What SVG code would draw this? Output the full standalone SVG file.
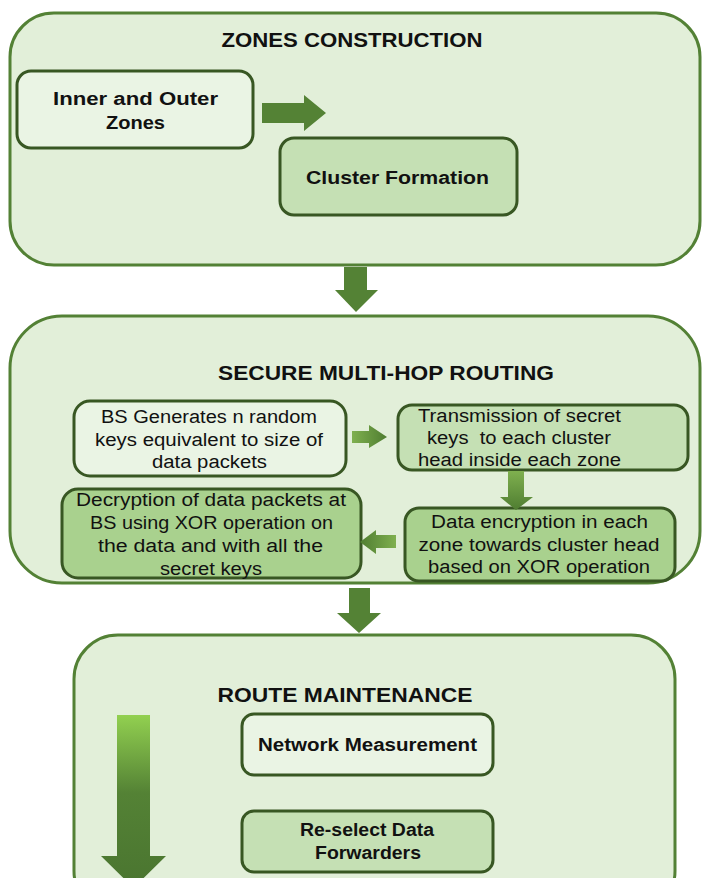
<svg xmlns="http://www.w3.org/2000/svg" width="702" height="878" viewBox="0 0 702 878">
<style>
.outer{fill:#e2efd9;stroke:#538135;stroke-width:3}
.box{stroke:#385723;stroke-width:3}
.b1{fill:#eaf4e4}
.b2{fill:#c5e0b4}
.b3{fill:#a9d18e}
.t{font-family:"Liberation Sans",Arial,sans-serif;fill:#111;text-anchor:middle}
.bold{font-weight:bold}
.title{font-size:20px}
.lbl{font-size:18px}
.reg{font-size:18px}
.arr{fill:#548235}
</style>
<defs>
<linearGradient id="gv" x1="0" y1="0" x2="0" y2="1">
<stop offset="0" stop-color="#92d050"/>
<stop offset="0.45" stop-color="#548235"/>
<stop offset="1" stop-color="#4a7530"/>
</linearGradient>
<linearGradient id="gs" x1="0" y1="0" x2="0" y2="1">
<stop offset="0" stop-color="#7fb04f"/>
<stop offset="1" stop-color="#4f7d31"/>
</linearGradient>
<linearGradient id="gr" x1="0" y1="0" x2="1" y2="0">
<stop offset="0" stop-color="#7fb04f"/>
<stop offset="1" stop-color="#4f7d31"/>
</linearGradient>
<linearGradient id="gl" x1="1" y1="0" x2="0" y2="0">
<stop offset="0" stop-color="#7fb04f"/>
<stop offset="1" stop-color="#4f7d31"/>
</linearGradient>
</defs>

<g id="zones-construction">
<rect class="outer" x="10" y="13" width="690" height="252" rx="44"/>
<text class="t bold title" x="352" y="47" textLength="261" lengthAdjust="spacingAndGlyphs">ZONES CONSTRUCTION</text>
</g>
<g id="inner-outer-zones">
<rect class="box b1" x="17" y="71" width="236" height="77" rx="14"/>
<text class="t bold lbl" x="135.5" y="105" textLength="165" lengthAdjust="spacingAndGlyphs">Inner and Outer</text>
<text class="t bold lbl" x="135.5" y="129" textLength="59" lengthAdjust="spacingAndGlyphs">Zones</text>
</g>
<g id="cluster-formation">
<rect class="box b2" x="280" y="138" width="237" height="77" rx="14"/>
<text class="t bold lbl" x="397.5" y="184" textLength="183" lengthAdjust="spacingAndGlyphs">Cluster Formation</text>
</g>

<g id="secure-multihop-routing">
<rect class="outer" x="10" y="316" width="690" height="267" rx="52"/>
<text class="t bold title" x="386" y="380" textLength="336" lengthAdjust="spacingAndGlyphs">SECURE MULTI-HOP ROUTING</text>
</g>
<g id="bs-generates">
<rect class="box b1" x="74" y="401" width="272" height="75" rx="16"/>
<text class="t reg" x="209" y="423" textLength="216" lengthAdjust="spacingAndGlyphs">BS Generates n random</text>
<text class="t reg" x="209" y="446" textLength="228" lengthAdjust="spacingAndGlyphs">keys equivalent to size of</text>
<text class="t reg" x="209.5" y="468" textLength="115" lengthAdjust="spacingAndGlyphs">data packets</text>
</g>
<g id="transmission">
<rect class="box b2" x="398" y="405" width="290" height="65" rx="14"/>
<text class="t reg" x="519.5" y="422" textLength="203" lengthAdjust="spacingAndGlyphs">Transmission of secret</text>
<text class="t reg" x="519" y="444" textLength="184" lengthAdjust="spacingAndGlyphs" style="white-space:pre">keys  to each cluster</text>
<text class="t reg" x="519.5" y="466" textLength="203" lengthAdjust="spacingAndGlyphs">head inside each zone</text>
</g>
<g id="data-encryption">
<rect class="box b3" x="405" y="508" width="270" height="73" rx="14"/>
<text class="t reg" x="539.5" y="528" textLength="217" lengthAdjust="spacingAndGlyphs">Data encryption in each</text>
<text class="t reg" x="539" y="551" textLength="241" lengthAdjust="spacingAndGlyphs">zone towards cluster head</text>
<text class="t reg" x="539" y="573" textLength="222" lengthAdjust="spacingAndGlyphs">based on XOR operation</text>
</g>
<g id="decryption">
<rect class="box b3" x="62" y="489" width="299" height="89" rx="16"/>
<text class="t reg" x="211" y="506" textLength="270" lengthAdjust="spacingAndGlyphs">Decryption of data packets at</text>
<text class="t reg" x="211.5" y="529" textLength="243" lengthAdjust="spacingAndGlyphs">BS using XOR operation on</text>
<text class="t reg" x="210.5" y="552" textLength="225" lengthAdjust="spacingAndGlyphs">the data and with all the</text>
<text class="t reg" x="211" y="575" textLength="102" lengthAdjust="spacingAndGlyphs">secret keys</text>
</g>

<g id="route-maintenance">
<rect class="outer" x="74" y="635" width="601" height="280" rx="44"/>
<text class="t bold title" x="345" y="702" textLength="255" lengthAdjust="spacingAndGlyphs">ROUTE MAINTENANCE</text>
</g>
<g id="network-measurement">
<rect class="box b1" x="242" y="714" width="251" height="61" rx="12"/>
<text class="t bold lbl" x="367.5" y="751" textLength="219" lengthAdjust="spacingAndGlyphs">Network Measurement</text>
</g>
<g id="reselect-forwarders">
<rect class="box b2" x="242" y="811" width="251" height="61" rx="12"/>
<text class="t bold lbl" x="367" y="836" textLength="134" lengthAdjust="spacingAndGlyphs">Re-select Data</text>
<text class="t bold lbl" x="368" y="859" textLength="106" lengthAdjust="spacingAndGlyphs">Forwarders</text>
</g>

<g id="connectors">
<polygon class="arr" points="262,103 304,103 304,95 326,113 304,131 304,123 262,123"/>
<polygon class="arr" points="344,267 367,267 367,290 378,290 356,312 335,290 344,290"/>
<polygon fill="url(#gr)" points="352,431 369,431 369,425 387,437 369,448 369,443 352,443"/>
<polygon fill="url(#gs)" points="508,471 524,471 524,497 533,497 516,510 500,497 508,497"/>
<polygon fill="url(#gl)" points="396,535 376,535 376,530 360,542 376,554 376,548 396,548"/>
<polygon class="arr" points="349,588 370,588 370,613 381,613 359,633 337,613 349,613"/>
<polygon fill="url(#gv)" points="117,715 150,715 150,856 166,856 133.5,888 101,856 117,856"/>
</g>
</svg>
